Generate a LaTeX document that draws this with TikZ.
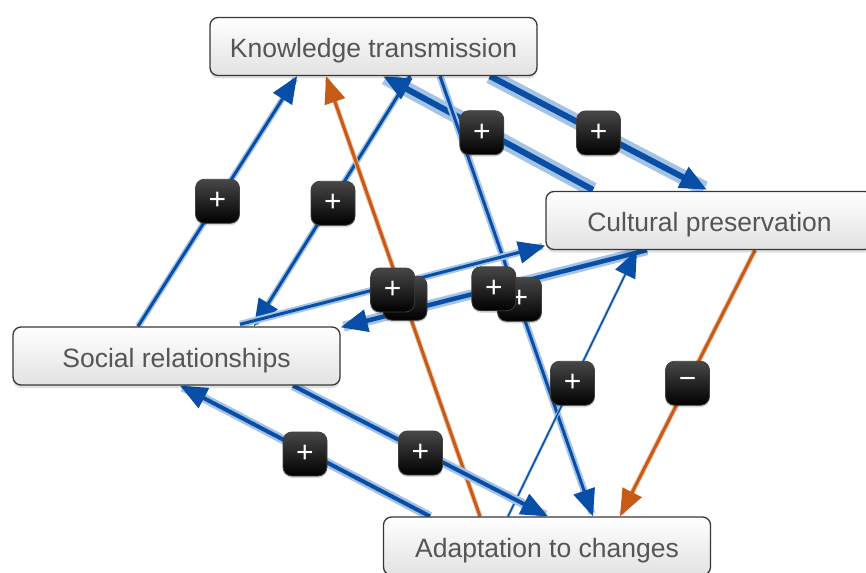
\documentclass[tikz,border=0pt]{standalone}
\usepackage{fontspec}
\setmainfont{Liberation Sans}
\usetikzlibrary{arrows.meta,calc,shadows}

\definecolor{flowblue}{RGB}{8,78,166}
\definecolor{glowblue}{RGB}{165,195,228}
\definecolor{floworange}{RGB}{198,90,22}
\definecolor{gloworange}{RGB}{236,190,160}
\definecolor{boxline}{RGB}{55,55,55}
\definecolor{boxbottom}{RGB}{226,226,226}
\definecolor{labeltext}{RGB}{85,85,85}

\pgfdeclarelayer{edges}
\pgfsetlayers{edges,main}

\tikzset{
  factor/.style={rectangle, rounded corners=8pt, minimum width=327pt, minimum height=58pt,
    inner sep=0pt, text height=25pt, text depth=3pt,
    draw=boxline, line width=1.3pt, top color=white, bottom color=boxbottom,
    text=labeltext, font=\fontsize{26.5}{30}\selectfont,
    drop shadow={shadow xshift=0pt, shadow yshift=-3pt, opacity=0.12, fill=black}},
  blueflow/.style={draw=flowblue, -{Triangle[length=27pt,width=22pt]}},
  orangeflow/.style={draw=floworange, -{Triangle[length=27pt,width=21pt]}},
  glow/.style={preaction={draw=glowblue, line width=#1, arrows=-, shorten >=3pt}},
  oglow/.style={preaction={draw=gloworange, line width=#1, arrows=-, shorten >=3pt}},
  badge/.style={rectangle, rounded corners=9pt, minimum width=44pt, minimum height=44pt,
    inner sep=0pt, draw=black!75, line width=0.8pt, top color=black!72, bottom color=black,
    text=white, font=\fontsize{30}{30}\selectfont,
    drop shadow={shadow xshift=0pt, shadow yshift=-2pt, opacity=0.15, fill=black}},
}

\begin{document}
\begin{tikzpicture}[x=1pt,y=-1pt]
\useasboundingbox (0,0) rectangle (866,572);
\clip (0,0) rectangle (866,572);

% factors
\node[factor] (K) at (373.5,46.5) {Knowledge transmission};
\node[factor] (C) at (709.5,220.5) {Cultural preservation};
\node[factor] (S) at (176.5,356) {Social relationships};
\node[factor] (A) at (547,546) {Adaptation to changes};

\begin{pgfonlayer}{edges}
% links
\draw[blueflow, line width=3pt, glow=6pt]
  ([xshift=-38.5pt]S.north) -- coordinate[pos=.5] (sk) ([xshift=-76.5pt]K.south);
\draw[blueflow, line width=3pt, glow=6pt]
  ([xshift=36.5pt]K.south) -- coordinate[pos=.5] (ks) ([xshift=77.5pt]S.north);
\draw[blueflow, line width=6pt, glow=15pt]
  ([xshift=-116.5pt,yshift=1pt]C.north) -- coordinate[pos=.52] (ck) ([xshift=9.5pt]K.south);
\draw[blueflow, line width=6pt, glow=15pt]
  ([xshift=116.5pt]K.south) -- coordinate[pos=.5] (kc) ([xshift=-2.5pt,yshift=1pt]C.north);
\draw[orangeflow, line width=3pt, oglow=5pt]
  ([xshift=-67pt]A.north) -- coordinate[pos=.5] (ak) ([xshift=-47.5pt]K.south);
\draw[blueflow, line width=3pt, glow=7pt]
  ([xshift=66.5pt]K.south) -- coordinate[pos=.5] (ka) ([xshift=46pt]A.north);
\draw[blueflow, line width=3pt, glow=7pt]
  ([xshift=63.5pt,yshift=2pt]S.north) -- coordinate[pos=.5] (sc) ([yshift=4.5pt]C.south west);
\draw[blueflow, line width=4.5pt, glow=10pt]
  ([xshift=-62.5pt]C.south) -- coordinate[pos=.5] (cs) ([yshift=-1pt]S.north east);
\draw[blueflow, line width=1.5pt, glow=3pt]
  ([xshift=-39pt]A.north) -- coordinate[pos=.5] (ac) ([xshift=-72.5pt]C.south);
\draw[orangeflow, line width=3pt, oglow=5pt]
  ([xshift=45.5pt]C.south) -- coordinate[pos=.5] (ca) ([xshift=73pt]A.north);
\draw[blueflow, line width=4pt, glow=9pt]
  ([xshift=-117pt]A.north) -- coordinate[pos=.5] (as) ([xshift=3.5pt]S.south);
\draw[blueflow, line width=4pt, glow=9pt]
  ([xshift=116.5pt]S.south) -- coordinate[pos=.5] (sa) ([xshift=1pt]A.north);

% polarity badges
\node[badge] (bak) at ($(ak)+(2,2)$) {};
\node[badge] (bka) at ($(ka)+(3,3)$) {+};
\node[badge] (bsk) at (sk) {+};
\node[badge] (bks) at ($(ks)+(1,2)$) {+};
\node[badge] (bck) at ($(ck)+(-2,2)$) {+};
\node[badge] (bkc) at (kc) {+};
\node[badge] (bsc) at ($(sc)+(0,5)$) {+};
\node[badge] (bcs) at (cs) {+};
\node[badge] (bac) at (ac) {+};
\node[badge] (bca) at (ca) {\symbol{"2212}};
\node[badge] (bas) at ($(as)+(0,3)$) {+};
\node[badge] (bsa) at ($(sa)+(0,2)$) {+};
\end{pgfonlayer}
\end{tikzpicture}
\end{document}
